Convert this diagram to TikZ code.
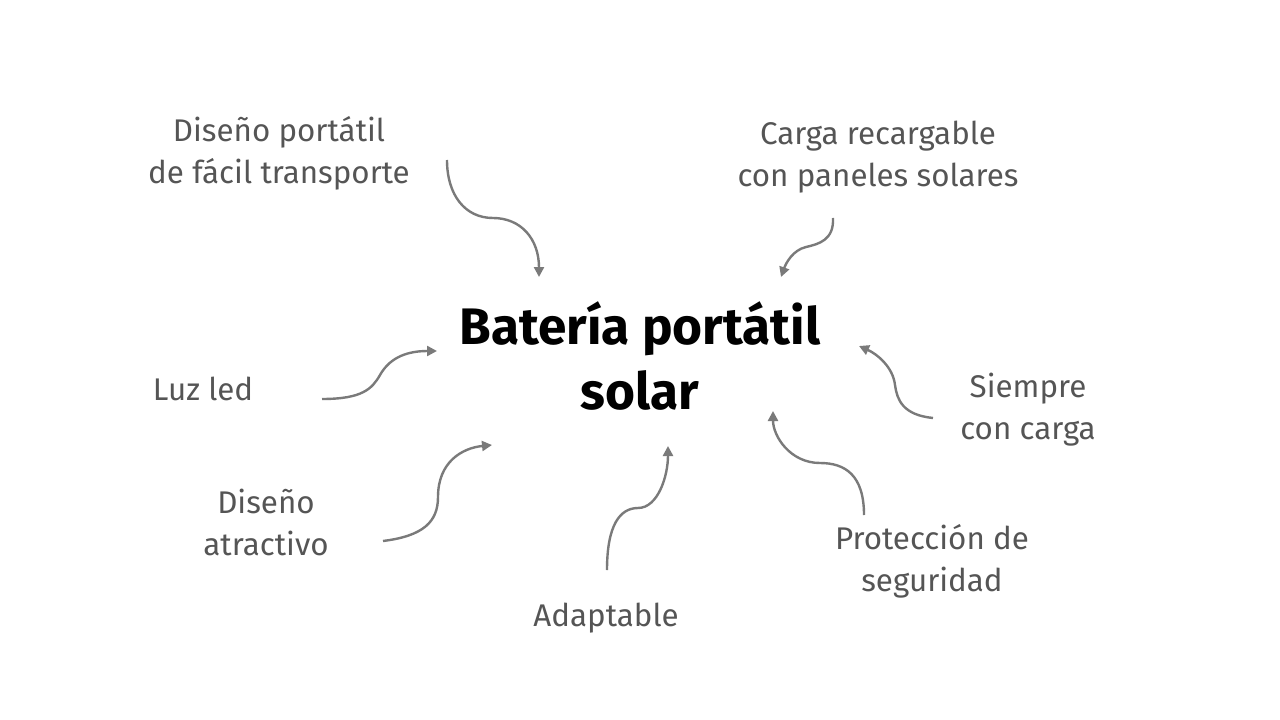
\documentclass[tikz,border=0pt]{standalone}
\usepackage{fontspec}
\setmainfont{Fira Sans}
\usetikzlibrary{arrows.meta}

\definecolor{ideagray}{HTML}{555555}
\definecolor{linkgray}{HTML}{7A7A7A}

\begin{document}
\begin{tikzpicture}[x=0.75pt, y=-0.75pt,
  idea/.style={text=ideagray, align=center, font=\fontsize{23.5}{31.5}\selectfont},
  link/.style={draw=linkgray, line width=1.8pt, -{Triangle[length=7.5pt,width=7.5pt]}}]
\useasboundingbox (0,0) rectangle (1280,720);

% centre
\node[align=center, font=\fontsize{38.5}{49}\selectfont\bfseries] (c) at (640,356) {Batería portátil\\solar};

% ideas
\node[idea] (dp) at (279,153) {Diseño portátil\\de fácil transporte};
\node[idea] (cr) at (878,157) {Carga recargable\\con paneles solares};
\node[idea] (ll) at (203,389) {Luz led};
\node[idea] (sc) at (1028,410) {Siempre\\con carga};
\node[idea] (da) at (266,522) {Diseño\\atractivo};
\node[idea] (ad) at (606,618) {Adaptable};
\node[idea] (ps) at (932,561) {Protección de\\seguridad};

% ends of the links
\coordinate (dp1) at (447,160); \coordinate (dp2) at (539,277);
\coordinate (cr1) at (833,218); \coordinate (cr2) at (781,277);
\coordinate (ll1) at (322,399); \coordinate (ll2) at (437,351);
\coordinate (sc1) at (933,418); \coordinate (sc2) at (859,346);
\coordinate (da1) at (383,541); \coordinate (da2) at (492,445);
\coordinate (ad1) at (607,570); \coordinate (ad2) at (668,446);
\coordinate (ps1) at (864,515); \coordinate (ps2) at (773,411);

\draw[link] (dp1) .. controls +(0,35) and +(-28,0) .. (493,218) .. controls +(28,0) and +(0,-38) .. (dp2);
\draw[link] (cr1) .. controls +(1,22) and +(13,-3) .. (806,247) .. controls +(-13,3) and +(5,-14) .. (cr2);
\draw[link] (ll1) .. controls +(40,0) and +(-8,14) .. (380,375) .. controls +(8,-14) and +(-35,0) .. (ll2);
\draw[link] (sc1) .. controls +(-30,-3) and +(2,15) .. (895,385) .. controls +(-2,-18) and +(18,8) .. (sc2);
\draw[link] (da1) .. controls +(40,-5) and +(0,25) .. (438,497) .. controls +(0,-35) and +(-30,3) .. (da2);
\draw[link] (ad1) .. controls +(0,-45) and +(-18,0) .. (638,508) .. controls +(20,0) and +(0,30) .. (ad2);
\draw[link] (ps1) .. controls +(0,-40) and +(25,0) .. (820,463) .. controls +(-30,0) and +(0,25) .. (ps2);
\end{tikzpicture}
\end{document}
